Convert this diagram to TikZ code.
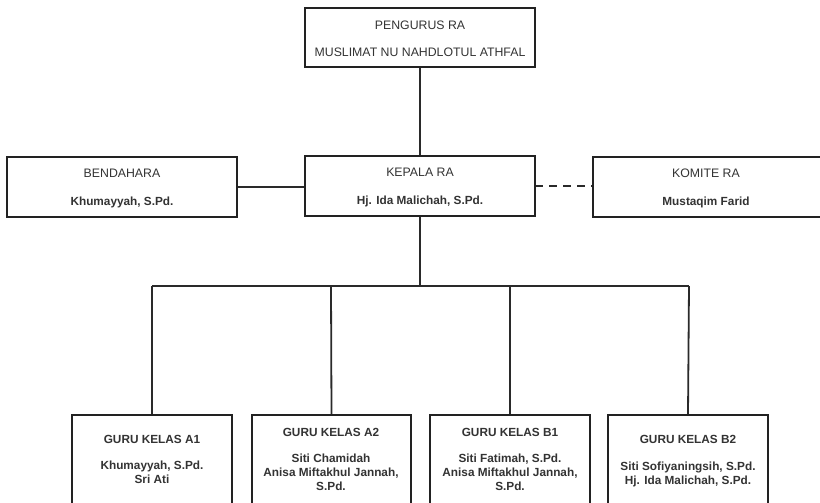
\documentclass[tikz,border=0pt]{standalone}
\usepackage{fontspec}
\setmainfont{Liberation Sans}
\definecolor{txt}{HTML}{333333}
\definecolor{bord}{HTML}{222222}
\definecolor{conn}{HTML}{2A2A2A}
\begin{document}
\begin{tikzpicture}[x=1pt,y=-1pt,
  box/.style={draw=bord,line width=2.4pt,fill=white},
  lbl/.style={text=txt,font=\fontsize{12.3}{13.8}\selectfont,align=center,inner sep=0pt},
  blbl/.style={lbl,font=\fontsize{11.8}{13.8}\selectfont\bfseries},
  wire/.style={draw=conn,line width=1.8pt},
  dwire/.style={wire,dash pattern=on 8pt off 6pt}]
\useasboundingbox (0,0) rectangle (820,503);
\clip (0,0) rectangle (820,503);
\coordinate (kb) at (420,286);
\coordinate (hl) at (152,286);
\coordinate (hr) at (689,286);
\coordinate (h2) at (331,286);
\coordinate (h3) at (510,286);
\node (top) [minimum width=230pt,minimum height=59pt,inner sep=0pt] at (420,37.5) {};
\node (bend) [minimum width=230pt,minimum height=60pt,inner sep=0pt] at (122,187) {};
\node (kep) [minimum width=230pt,minimum height=60pt,inner sep=0pt] at (420,186) {};
\node (kom) [minimum width=232pt,minimum height=60pt,inner sep=0pt] at (709,187) {};
\node (a1) [minimum width=160pt,minimum height=120pt,inner sep=0pt] at (152,475) {};
\node (a2) [minimum width=159pt,minimum height=120pt,inner sep=0pt] at (331.5,475) {};
\node (b1) [minimum width=160pt,minimum height=120pt,inner sep=0pt] at (510,475) {};
\node (b2) [minimum width=160pt,minimum height=120pt,inner sep=0pt] at (688,475) {};
\draw[wire] (top.south) -- (kep.north);
\draw[wire] (bend.east) -- (bend.east -| kep.west);
\draw[dwire] (kep.east) -- (kep.east -| kom.west);
\draw[wire] (kep.south) -- (kb);
\draw[wire] (hl) -- (hr);
\draw[wire] (hl) -- (a1.north);
\draw[wire] (h2) -- (a2.north);
\draw[wire] (h3) -- (b1.north);
\draw[wire] (hr) -- (b2.north);
\foreach \n in {top,bend,kep,kom,a1,a2,b1,b2}
  \draw[box] (\n.north west) rectangle (\n.south east);
\node[lbl] (t1) at (420,25) {PENGURUS RA};
\node[lbl] (t2) at (420,52) {MUSLIMAT NU NAHDLOTUL ATHFAL};
\node[lbl] (be1) at (122,173) {BENDAHARA};
\node[blbl] (be2) at (122,202) {Khumayyah, S.Pd.};
\node[lbl] (ke1) at (420,172) {KEPALA RA};
\node[blbl] (ke2) at (420,201) {Hj. Ida Malichah, S.Pd.};
\node[lbl] (ko1) at (706,173) {KOMITE RA};
\node[blbl] (ko2) at (706,202) {Mustaqim Farid};
\node[blbl] (a1t) at (152,439) {GURU KELAS A1};
\node[blbl,anchor=north] (a1n) at (152,461) {Khumayyah, S.Pd.\\Sri Ati};
\node[blbl] (a2t) at (331,432) {GURU KELAS A2};
\node[blbl,anchor=north] (a2n) at (331,454) {Siti Chamidah\\Anisa Miftakhul Jannah,\\S.Pd.};
\node[blbl] (b1t) at (510,432) {GURU KELAS B1};
\node[blbl,anchor=north] (b1n) at (510,454) {Siti Fatimah, S.Pd.\\Anisa Miftakhul Jannah,\\S.Pd.};
\node[blbl] (b2t) at (688,439) {GURU KELAS B2};
\node[blbl,anchor=north] (b2n) at (688,462) {Siti Sofiyaningsih, S.Pd.\\Hj. Ida Malichah, S.Pd.};
\end{tikzpicture}
\end{document}
